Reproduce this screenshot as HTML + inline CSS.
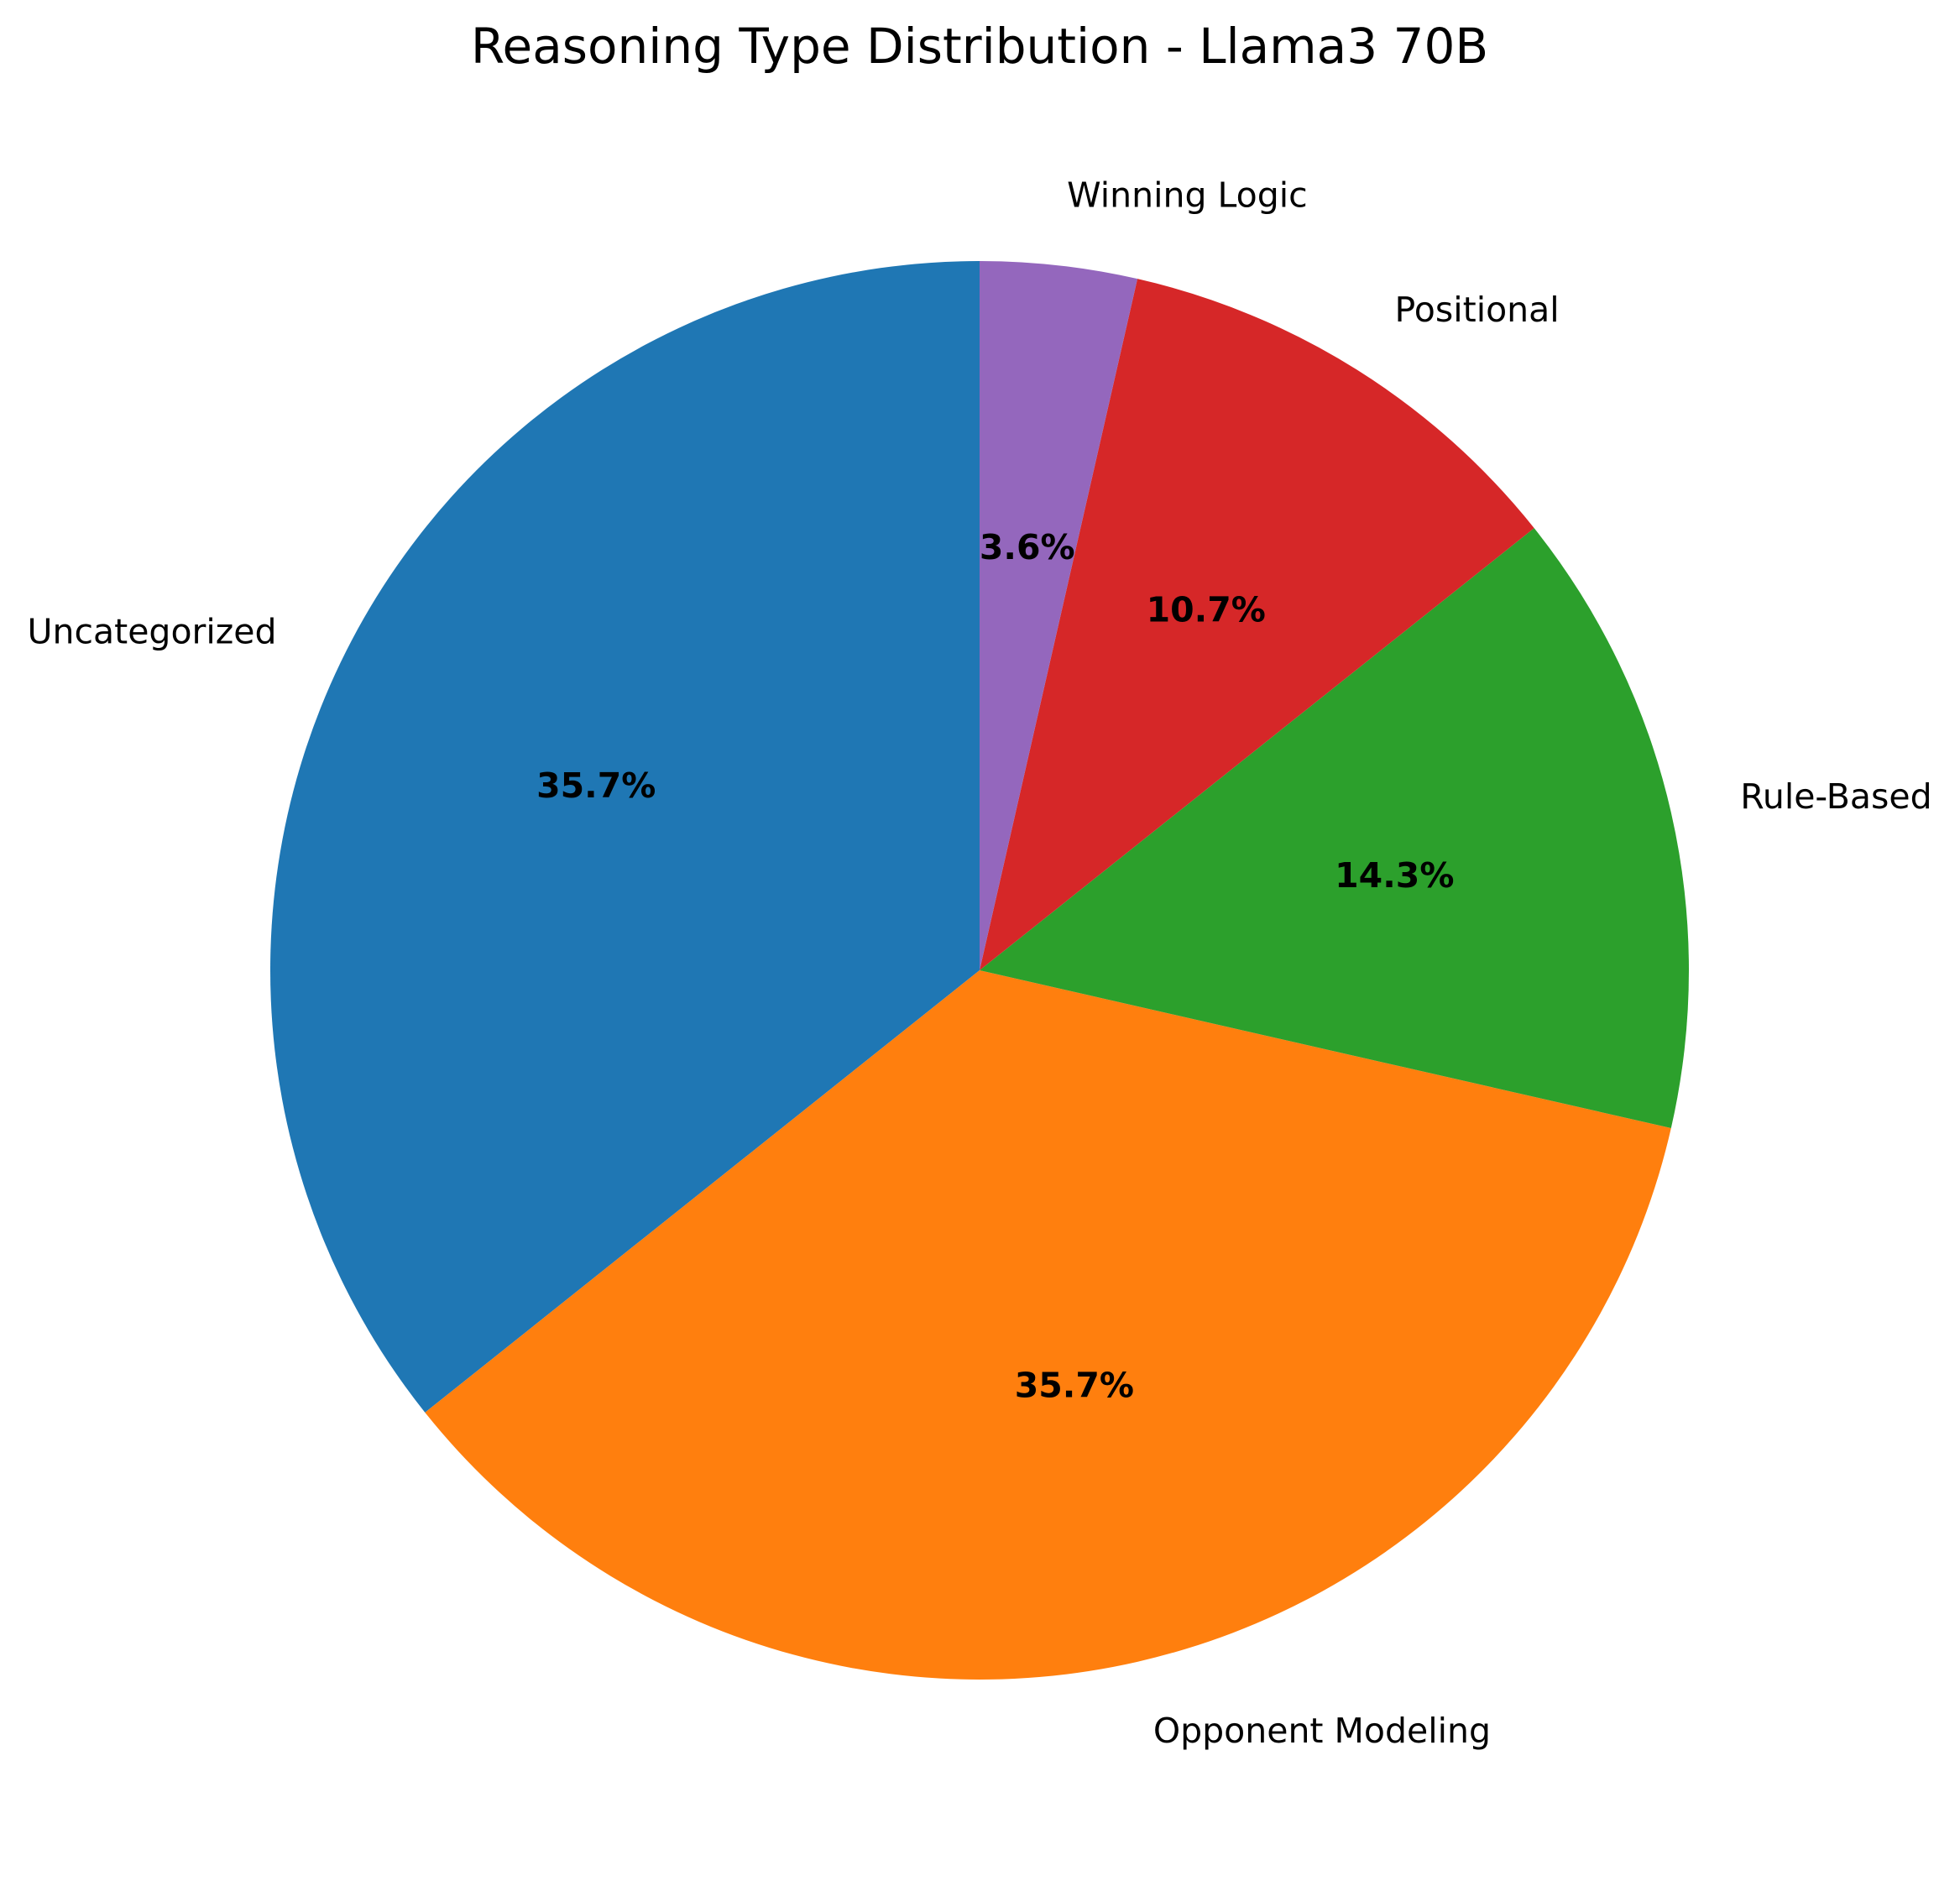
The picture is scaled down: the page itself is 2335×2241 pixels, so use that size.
<!DOCTYPE html>
<html><head><meta charset="utf-8"><style>
html,body{margin:0;padding:0;background:#fff}
svg{display:block}
text{font-family:"DejaVu Sans","Liberation Sans",sans-serif}
</style></head><body>
<svg id="chart" width="2335" height="2241" viewBox="0 0 2335 2241" xmlns="http://www.w3.org/2000/svg">
<rect width="2335" height="2241" fill="#fff"/>
<text x="1167" y="75" text-anchor="middle" font-size="58" fill="#000">Reasoning Type Distribution - Llama3 70B</text>
<g id="slices"></g>
</svg>
<script>
const categories = ["Uncategorized", "Opponent Modeling", "Rule-Based", "Positional", "Winning Logic"];
const values = [10, 10, 4, 3, 1];
const colors = ["#1f77b4", "#ff7f0e", "#2ca02c", "#d62728", "#9467bd"];

const cx = 1167, cy = 1156, R = 845;
const NS = "http://www.w3.org/2000/svg";
const g = document.getElementById("slices");
const total = values.reduce((a, b) => a + b, 0);
function pt(deg, r) {
  const a = deg * Math.PI / 180;
  return [cx + r * Math.cos(a), cy - r * Math.sin(a)];
}
let start = 90;
values.forEach((v, i) => {
  const sweep = v / total * 360;
  const end = start + sweep;
  const [x1, y1] = pt(start, R), [x2, y2] = pt(end, R);
  const large = sweep > 180 ? 1 : 0;
  const p = document.createElementNS(NS, "path");
  p.setAttribute("d", `M${cx},${cy} L${x1},${y1} A${R},${R} 0 ${large} 0 ${x2},${y2} Z`);
  p.setAttribute("fill", colors[i]);
  
  
  g.appendChild(p);

  const mid = (start + end) / 2;
  const [lx, ly] = pt(mid, R * 1.1);
  const t = document.createElementNS(NS, "text");
  t.setAttribute("x", lx);
  t.setAttribute("y", ly);
  t.setAttribute("dominant-baseline", "central");
  t.setAttribute("text-anchor", Math.cos(mid * Math.PI / 180) < 0 ? "end" : "start");
  t.setAttribute("font-size", "41");
  t.textContent = categories[i];
  
  
  g.appendChild(t);

  const [px, py] = pt(mid, R * 0.6);
  const pc = document.createElementNS(NS, "text");
  pc.setAttribute("x", px);
  pc.setAttribute("y", py);
  pc.setAttribute("dominant-baseline", "central");
  pc.setAttribute("text-anchor", "middle");
  pc.setAttribute("font-size", "41");
  pc.setAttribute("font-weight", "bold");
  pc.textContent = (v / total * 100).toFixed(1) + "%";
  
  
  g.appendChild(pc);
  start = end;
});
</script>
</body></html>
